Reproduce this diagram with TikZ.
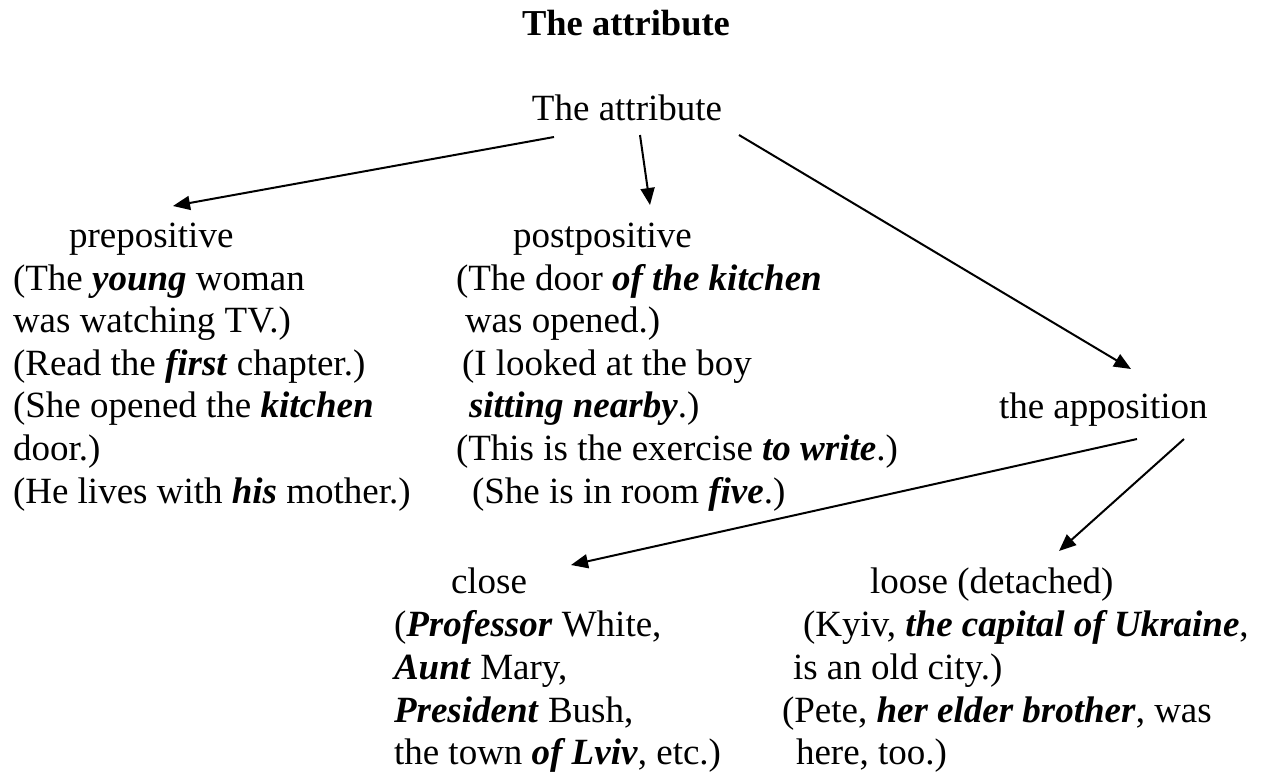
\documentclass[tikz,border=0pt]{standalone}
\usepackage{fontspec}
\setmainfont{Liberation Serif}
\usetikzlibrary{arrows.meta}
\newcommand{\bi}[1]{\textbf{\textit{#1}}}
\tikzset{
  txt/.style={anchor=base west,inner sep=0pt,outer sep=0pt,font=\fontsize{37}{43}\selectfont},
  ttl/.style={anchor=base,inner sep=0pt,outer sep=0pt,font=\fontsize{36.5}{43}\selectfont\bfseries},
  arr/.style={line width=2pt,-{Triangle[length=17pt,width=14pt]}}
}
\begin{document}
\begin{tikzpicture}[x=1pt,y=-1pt]
\useasboundingbox (0,0) rectangle (1268,771);
\fill[white] (0,0) rectangle (1268,771);
% title
\node[ttl] (title) at (626,35) {The attribute};
\node[txt,anchor=base] (top) at (627,120) {The attribute};
% left column
\node[txt] (pre) at (69,247) {prepositive};
\node[txt] (p1) at (13,290) {(The \bi{young} woman};
\node[txt] (p2) at (13,332) {was watching TV.)};
\node[txt] (p3) at (13,375) {(Read the \bi{first} chapter.)};
\node[txt] (p4) at (13,417) {(She opened the \bi{kitchen}};
\node[txt] (p5) at (13,460) {door.)};
\node[txt] (p6) at (13,503) {(He lives with \bi{his} mother.)};
% middle column
\node[txt] (post) at (513,247) {postpositive};
\node[txt] (q1) at (456,290) {(The door \bi{of the kitchen}};
\node[txt] (q2) at (465,332) {was opened.)};
\node[txt] (q3) at (462,375) {(I looked at the boy};
\node[txt] (q4) at (469,417) {\bi{sitting nearby}.)};
\node[txt] (q5) at (456,460) {(This is the exercise \bi{to write}.)};
\node[txt] (q6) at (472,503) {(She is in room \bi{five}.)};
% apposition
\node[txt] (app) at (999,418) {the apposition};
% close
\node[txt] (close) at (451,593) {close};
\node[txt] (c1) at (394,636) {(\bi{Professor} White,};
\node[txt] (c2) at (394,679) {\bi{Aunt} Mary,};
\node[txt] (c3) at (394,722) {\bi{President} Bush,};
\node[txt] (c4) at (394,764) {the town \bi{of Lviv}, etc.)};
% loose
\node[txt] (loose) at (870,593) {loose (detached)};
\node[txt] (l1) at (803,636) {(Kyiv, \bi{the capital of Ukraine},};
\node[txt] (l2) at (793,679) {is an old city.)};
\node[txt] (l3) at (782,722) {(Pete, \bi{her elder brother}, was};
\node[txt] (l4) at (796,764) {here, too.)};
% connector ends
\coordinate (a1s) at (554,137);
\coordinate (a1e) at (173,206);
\coordinate (a2s) at (640,135);
\coordinate (a2e) at (650,205);
\coordinate (a3s) at (739,135);
\coordinate (a3e) at (1131,369);
\coordinate (a4s) at (1137,439);
\coordinate (a4e) at (571,565);
\coordinate (a5s) at (1184,439);
\coordinate (a5e) at (1059,551);
\draw[arr] (a1s) -- (a1e);
\draw[arr] (a2s) -- (a2e);
\draw[arr] (a3s) -- (a3e);
\draw[arr] (a4s) -- (a4e);
\draw[arr] (a5s) -- (a5e);
\end{tikzpicture}
\end{document}
